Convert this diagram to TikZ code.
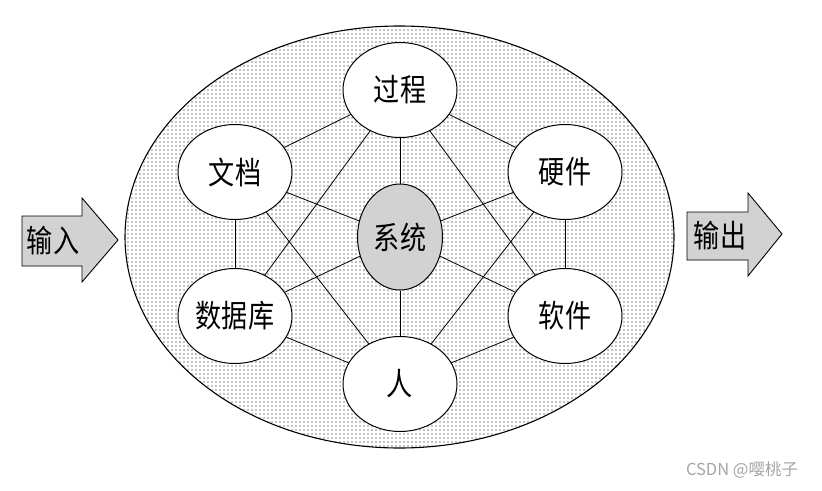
\documentclass[tikz,border=0pt]{standalone}
\usepackage{fontspec}
\usepackage{graphicx}
\newfontfamily\cjk{Noto Sans CJK SC}
\usetikzlibrary{shapes.geometric,patterns}
\pgfdeclarepatternformonly{sparsedots}{\pgfqpoint{-1pt}{-1pt}}{\pgfqpoint{1pt}{1pt}}{\pgfqpoint{4pt}{4pt}}{\pgfpathcircle{\pgfqpoint{0pt}{0pt}}{.53pt}\pgfusepath{fill}}
\pgfdeclarepatternformonly{densedots}{\pgfqpoint{-1pt}{-1pt}}{\pgfqpoint{1pt}{1pt}}{\pgfqpoint{2pt}{2pt}}{\pgfpathcircle{\pgfqpoint{0pt}{0pt}}{.55pt}\pgfusepath{fill}}
\pgfdeclarelayer{back}
\pgfdeclarelayer{mid}
\pgfsetlayers{back,mid,main}
\definecolor{wm}{RGB}{165,165,165}
\newcommand{\zh}[1]{\scalebox{0.9}[1.08]{#1}}
\tikzset{
  elem/.style={ellipse, draw, line width=1pt, fill=white, minimum width=114pt, minimum height=95pt, inner sep=0pt, font=\cjk\fontsize{29}{29}\selectfont},
  core/.style={ellipse, draw, line width=1pt, preaction={fill=white}, pattern=densedots, pattern color=black!75, minimum width=85pt, minimum height=106pt, inner sep=0pt, font=\cjk\fontsize{29}{29}\selectfont},
  link/.style={line width=0.8pt},
  bigarrow/.style={draw, line width=0.9pt, preaction={fill=white}, pattern=densedots, pattern color=black!75},
  arrowtext/.style={font=\cjk\fontsize{29}{29}\selectfont, inner sep=0pt}
}
\begin{document}
\begin{tikzpicture}[x=1pt,y=-1pt]
\useasboundingbox (0,0) rectangle (822,490);
% outer system boundary
\begin{pgfonlayer}{back}
\node[ellipse, draw, line width=1.1pt, minimum width=549pt, minimum height=422pt, inner sep=0pt, pattern=sparsedots, pattern color=black] (big) at (399.5,237) {};
\end{pgfonlayer}
% elements
\node[elem] (gc) at (400,90) {\zh{过程}};
\node[elem] (wd) at (235,172) {\zh{文档}};
\node[elem] (yj) at (565,172) {\zh{硬件}};
\node[core] (xt) at (400,237) {\zh{系统}};
\node[elem] (sjk) at (235,316) {\zh{数据库}};
\node[elem] (rj) at (565,316) {\zh{软件}};
\node[elem] (ren) at (400,384) {\zh{人}};
% connections
\begin{pgfonlayer}{mid}
\draw[link] (gc) -- (xt);
\draw[link] (xt) -- (ren);
\draw[link] (wd) -- (sjk);
\draw[link] (yj) -- (rj);
\draw[link] (xt) -- (wd);
\draw[link] (xt) -- (sjk);
\draw[link] (xt) -- (yj);
\draw[link] (xt) -- (rj);
\draw[link] (gc) -- (wd);
\draw[link] (gc) -- (yj);
\draw[link] (ren) -- (sjk);
\draw[link] (ren) -- (rj);
\draw[link] (gc) -- (sjk);
\draw[link] (gc) -- (rj);
\draw[link] (wd) -- (ren);
\draw[link] (yj) -- (ren);
\end{pgfonlayer}
% input arrow
\draw[bigarrow] (22,216) -- (82,216) -- (82,198) -- (118,240) -- (82,282) -- (82,266) -- (22,266) -- cycle;
\node[arrowtext] (in) at (53,241) {\zh{输入}};
% output arrow
\draw[bigarrow] (687,212) -- (748,212) -- (748,193) -- (782,234) -- (748,276) -- (748,260) -- (687,260) -- cycle;
\node[arrowtext] (out) at (720,236) {\zh{输出}};
% watermark
\node[font=\cjk\fontsize{16.5}{16.5}\selectfont, text=wm, inner sep=0pt] (wmk) at (742,470) {CSDN @嘤桃子};
\end{tikzpicture}
\end{document}
